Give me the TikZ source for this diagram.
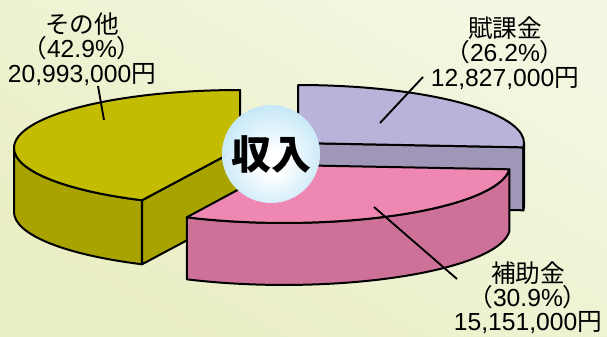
\documentclass[tikz,border=0pt]{standalone}
\usepackage{fontspec}
\newfontfamily\jp{Noto Sans CJK JP}
\newfontfamily\lat{Liberation Sans}
\definecolor{bgA}{HTML}{EAEEC3}
\definecolor{bgB}{HTML}{F4F6E1}
\definecolor{oliveT}{HTML}{C4BC00}
\definecolor{oliveS}{HTML}{A9A300}
\definecolor{lavT}{HTML}{BAB3D9}
\definecolor{lavS}{HTML}{A097B8}
\definecolor{pinkT}{HTML}{EE88B3}
\definecolor{pinkS}{HTML}{CE7198}
\definecolor{bub}{HTML}{8AD0F1}
\pgfdeclareradialshading{bubbleshade}{\pgfpoint{1bp}{-5bp}}{color(0bp)=(white); color(6bp)=(white); color(50bp)=(bub); color(60bp)=(bub)}
\begin{document}
\begin{tikzpicture}[x=0.75pt,y=-0.75pt,line join=round,
  edge/.style={draw=black,line width=1.5pt},
  ell/.style={x radius=226,y radius=58},
  lead/.style={draw=black,line width=1.4pt},
  lbl/.style={font=\jp\fontsize{18.5}{18.2}\selectfont,align=center,inner sep=0pt,text=black}]
\useasboundingbox (0,0) rectangle (607,336);
\shade[bottom color=bgA,top color=bgB,shading angle=-30] (0,0) rectangle (607,336);
% olive slice (その他)
\filldraw[edge,fill=oliveS] (14,148) arc[start angle=-180,end angle=-244.3,ell] -- ++(0,64) arc[start angle=-244.3,end angle=-180,ell] -- cycle;
\filldraw[edge,fill=oliveS] (142,200.3) -- (240,148) -- (240,212) -- (142,264.3) -- cycle;
\filldraw[edge,fill=oliveT] (240,148) -- (240,90) arc[start angle=-90,end angle=-244.3,ell] -- cycle;
% lavender slice (賦課金)
\filldraw[edge,fill=lavS] (298,143) -- (523.4,147.3) -- ++(0,63) -- (298,206) -- cycle;
\filldraw[edge,fill=lavS] (524,143) arc[start angle=0,end angle=4.3,ell] -- ++(0,63) arc[start angle=4.3,end angle=0,ell] -- cycle;
\filldraw[edge,fill=lavT] (298,143) -- (298,85) arc[start angle=-90,end angle=4.3,ell] -- cycle;
% pink slice (補助金)
\filldraw[edge,fill=pinkS] (509.4,169.3) arc[start angle=4.3,end angle=115.5,ell] -- ++(0,62) arc[start angle=115.5,end angle=4.3,ell] -- cycle;
\filldraw[edge,fill=pinkT] (284,165) -- (509.4,169.3) arc[start angle=4.3,end angle=115.5,ell] -- cycle;
% labels
\node[lbl] (oth) at (82,49) {その他\\（{\lat 42.9\%}）\\{\lat 20,993,000}円};
\node[lbl] (fuk) at (505,53) {賦課金\\（{\lat 26.2\%}）\\{\lat 12,827,000}円};
\node[lbl] (hoj) at (528,297.5) {補助金\\（{\lat 30.9\%}）\\{\lat 15,151,000}円};
% leader lines
\coordinate (othA) at (104,120);
\coordinate (othB) at (98,86);
\coordinate (fukA) at (380,123);
\coordinate (fukB) at (423,77);
\coordinate (hojA) at (374,207);
\coordinate (hojB) at (457,279);
\draw[lead] (othA) -- (othB);
\draw[lead] (fukA) -- (fukB);
\draw[lead] (hojA) -- (hojB);
% bubble
\node[circle,minimum size=73.5pt,inner sep=0pt,shading=bubbleshade,font=\jp\bfseries\fontsize{30}{30}\selectfont] (inc) at (271,154) {収入};
\end{tikzpicture}
\end{document}
